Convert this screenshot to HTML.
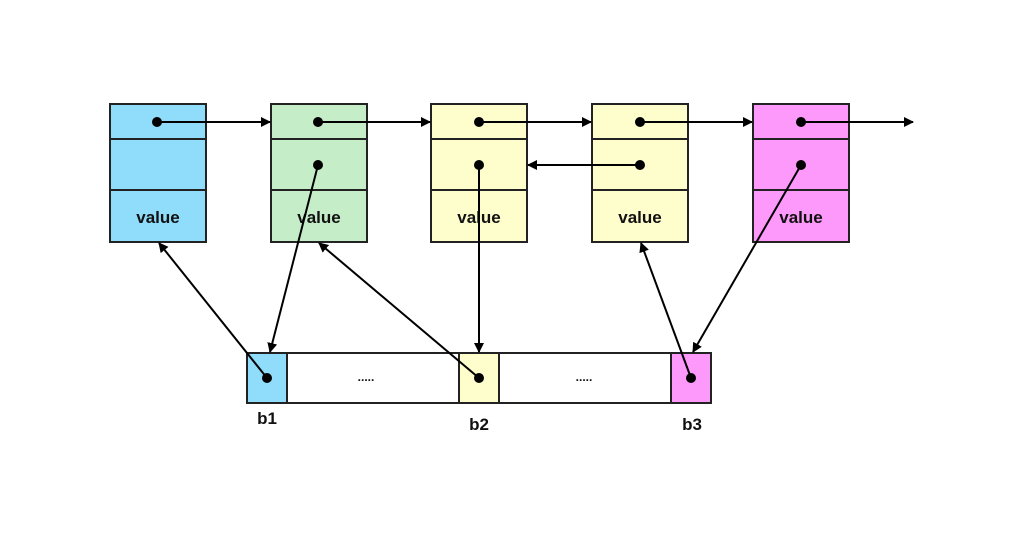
<!DOCTYPE html>
<html><head><style>body{margin:0;background:#fff}</style></head><body>
<svg width="1024" height="539" xmlns="http://www.w3.org/2000/svg" font-family="Liberation Sans, sans-serif">
<defs><marker id="a" markerWidth="10" markerHeight="10" refX="9" refY="5" orient="auto" markerUnits="userSpaceOnUse"><path d="M0,0L10,5L0,10z" fill="#000"/></marker></defs>
<g stroke="#222" stroke-width="2">
<rect x="110" y="104" width="96" height="138" fill="#8fdcfb"/>
<rect x="271" y="104" width="96" height="138" fill="#c5edc8"/>
<rect x="431" y="104" width="96" height="138" fill="#fefdcc"/>
<rect x="592" y="104" width="96" height="138" fill="#fefdcc"/>
<rect x="753" y="104" width="96" height="138" fill="#fd99fa"/>
<path d="M110 139H206M110 190H206M271 139H367M271 190H367M431 139H527M431 190H527M592 139H688M592 190H688M753 139H849M753 190H849"/>
<rect x="247" y="353" width="464" height="50" fill="#fff"/>
<rect x="247" y="353" width="40" height="50" fill="#8fdcfb"/>
<rect x="459" y="353" width="40" height="50" fill="#fefdcc"/>
<rect x="671" y="353" width="40" height="50" fill="#fd99fa"/>
</g>
<g font-size="17" font-weight="bold" fill="#111" text-anchor="middle">
<text x="158" y="223">value</text><text x="319" y="223">value</text><text x="479" y="223">value</text><text x="640" y="223">value</text><text x="801" y="223">value</text>
<text x="267" y="424">b1</text><text x="479" y="430">b2</text><text x="692" y="430">b3</text>
<text x="366" y="381" font-size="12">.....</text><text x="584" y="381" font-size="12">.....</text>
</g>
<g stroke="#000" stroke-width="2" marker-end="url(#a)">
<line x1="157" y1="122" x2="270" y2="122"/>
<line x1="318" y1="122" x2="430" y2="122"/>
<line x1="479" y1="122" x2="591" y2="122"/>
<line x1="640" y1="122" x2="752" y2="122"/>
<line x1="801" y1="122" x2="913" y2="122"/>
<line x1="640" y1="165" x2="528" y2="165"/>
<line x1="318" y1="165" x2="270" y2="352"/>
<line x1="267" y1="378" x2="159" y2="243"/>
<line x1="479" y1="378" x2="319" y2="243"/>
<line x1="479" y1="165" x2="479" y2="352"/>
<line x1="691" y1="378" x2="641" y2="243"/>
<line x1="801" y1="165" x2="693" y2="352"/>
</g>
<g fill="#000">
<circle cx="157" cy="122" r="5"/><circle cx="318" cy="122" r="5"/><circle cx="479" cy="122" r="5"/><circle cx="640" cy="122" r="5"/><circle cx="801" cy="122" r="5"/>
<circle cx="318" cy="165" r="5"/><circle cx="479" cy="165" r="5"/><circle cx="640" cy="165" r="5"/><circle cx="801" cy="165" r="5"/>
<circle cx="267" cy="378" r="5"/><circle cx="479" cy="378" r="5"/><circle cx="691" cy="378" r="5"/>
</g>
</svg>
</body></html>
